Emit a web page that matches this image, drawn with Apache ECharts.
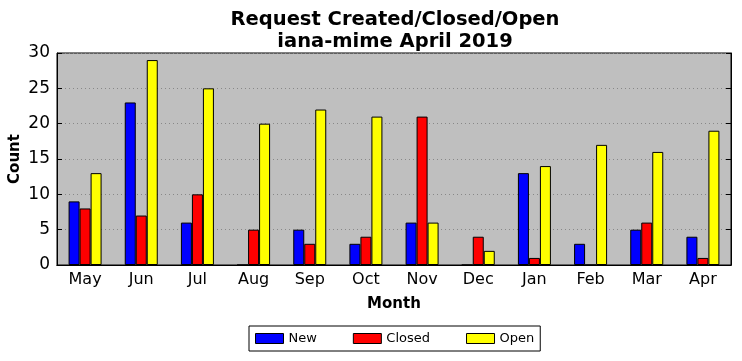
<!DOCTYPE html>
<html><head><meta charset="utf-8">
<script src="https://cdn.jsdelivr.net/npm/echarts@6/dist/echarts.min.js"></script>
<style>html,body{margin:0;padding:0;background:#fff}#c{width:742px;height:361px}</style>
</head><body><div id="c"></div>
<script>
var months = ['May','Jun','Jul','Aug','Sep','Oct','Nov','Dec','Jan','Feb','Mar','Apr'];
var newVals = [9,23,6,0,5,3,6,0,13,3,5,4];
var closedVals = [8,7,10,5,3,4,21,4,1,0,6,1];
var openVals = [13,29,25,20,22,21,6,2,14,17,16,19];
var yTicks = [0,5,10,15,20,25,30];

var F = 'DejaVu Sans';
var chart = echarts.init(document.getElementById('c'));
function bar(name, data, color){
  return {name:name, type:'bar', data:data, barWidth:11, barGap:'0%',
    itemStyle:{color:color, borderColor:'#000', borderWidth:1}, animation:false};
}
chart.setOption({
  animation:false,
  title:{text:'Request Created/Closed/Open\niana-mime April 2019', left:390, textAlign:'center', top:4,
    textStyle:{fontFamily:F, fontWeight:'bold', fontSize:19.5, color:'#000', lineHeight:22}},
  legend:{bottom:10, left:249, itemWidth:28, itemHeight:10, itemGap:36, icon:'rect',
    borderColor:'#000', borderWidth:1, padding:[6,6,6,6], borderRadius:0,
    itemStyle:{borderColor:'#000', borderWidth:1},
    textStyle:{fontFamily:F, fontSize:13, color:'#000'},
    data:['New','Closed','Open']},
  grid:{left:57, right:11, top:53, bottom:96, containLabel:false, outerBoundsMode:'none', show:true, backgroundColor:'#bfbfbf', borderColor:'#000', borderWidth:1},
  xAxis:[{type:'category', data:months, position:'bottom',
    name:'Month', nameLocation:'middle', nameGap:32,
    nameTextStyle:{fontFamily:F, fontWeight:'bold', fontSize:15, color:'#000'},
    axisLine:{lineStyle:{color:'#000'}},
    axisTick:{inside:true, alignWithLabel:true, length:5, lineStyle:{color:'#000'}},
    axisLabel:{fontFamily:F, fontSize:16, color:'#000', margin:7}},
   {type:'category', data:months, position:'top',
    axisLine:{lineStyle:{color:'#000'}},
    axisTick:{inside:true, alignWithLabel:true, length:5, lineStyle:{color:'#000'}},
    axisLabel:{show:false}}],
  yAxis:[{type:'value', min:0, max:30, interval:5,
    name:'Count', nameLocation:'middle', nameGap:34, nameMoveOverlap:false,
    nameTextStyle:{fontFamily:F, fontWeight:'bold', fontSize:15, color:'#000'},
    axisLine:{show:true, lineStyle:{color:'#000'}},
    axisTick:{show:true, inside:true, length:5, lineStyle:{color:'#000'}},
    axisLabel:{fontFamily:F, fontSize:17, color:'#000', margin:7},
    splitLine:{show:true, lineStyle:{color:'#888', type:[1,3], width:1}}},
   {type:'value', min:0, max:30, interval:5, position:'right',
    axisLine:{show:true, lineStyle:{color:'#000'}},
    axisTick:{show:true, inside:true, length:5, lineStyle:{color:'#000'}},
    axisLabel:{show:false}, splitLine:{show:false}}],
  series:[bar('New', newVals, '#0000ff'), bar('Closed', closedVals, '#ff0000'), bar('Open', openVals, '#ffff00')]
});
</script></body></html>
